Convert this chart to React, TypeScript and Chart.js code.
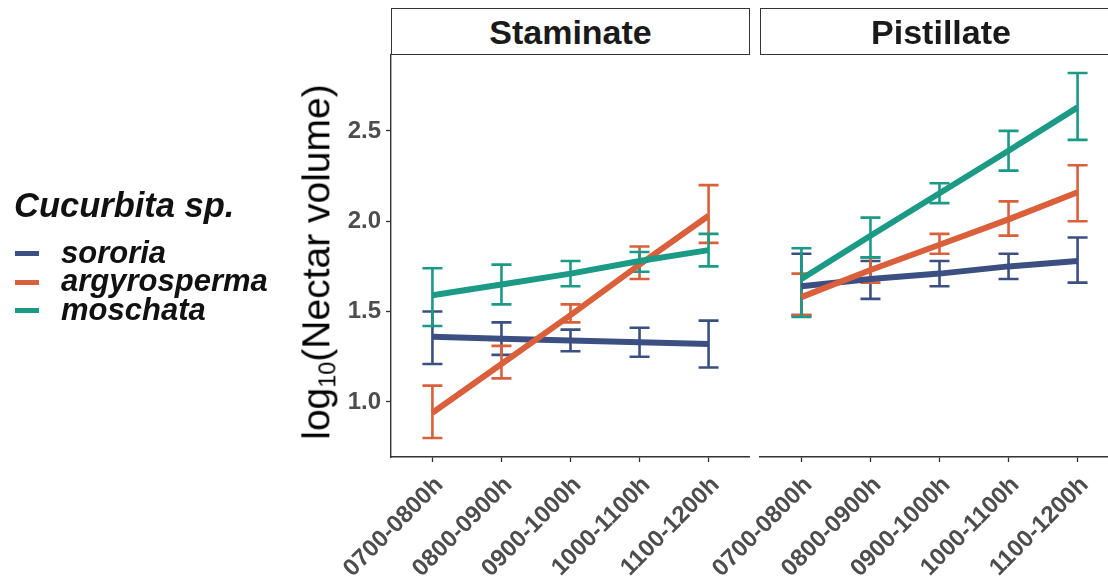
import React, { useEffect, useRef } from "react";
import { Chart, registerables } from "chart.js";

Chart.register(...registerables);

// ---------- data ----------
const timeSlots = ["0700-0800h", "0800-0900h", "0900-1000h", "1000-1100h", "1100-1200h"];
const facetNames = ["Staminate", "Pistillate"];
const legendTitle = "Cucurbita sp.";
const speciesNames = ["sororia", "argyrosperma", "moschata"];
const speciesColors = ["#3B4F82", "#D9603B", "#1B9A85"];
const yTickValues = [1.0, 1.5, 2.0, 2.5];
const yMin = 0.695;
const yMax = 2.92;

// Staminate
const staminateSororiaMean = [1.36, 1.35, 1.34, 1.33, 1.32];
const staminateSororiaLow = [1.21, 1.26, 1.28, 1.25, 1.19];
const staminateSororiaHigh = [1.5, 1.44, 1.4, 1.41, 1.45];
const staminateArgyrospermaMean = [0.94, 1.21, 1.48, 1.76, 2.03];
const staminateArgyrospermaLow = [0.8, 1.13, 1.44, 1.68, 1.88];
const staminateArgyrospermaHigh = [1.09, 1.31, 1.54, 1.86, 2.2];
const staminateMoschataMean = [1.59, 1.65, 1.71, 1.78, 1.84];
const staminateMoschataLow = [1.42, 1.54, 1.64, 1.72, 1.75];
const staminateMoschataHigh = [1.74, 1.76, 1.78, 1.83, 1.93];

// Pistillate
const pistillateSororiaMean = [1.64, 1.68, 1.71, 1.75, 1.78];
const pistillateSororiaLow = [1.48, 1.57, 1.64, 1.68, 1.66];
const pistillateSororiaHigh = [1.82, 1.78, 1.78, 1.82, 1.91];
const pistillateArgyrospermaMean = [1.58, 1.73, 1.87, 2.01, 2.16];
const pistillateArgyrospermaLow = [1.48, 1.66, 1.82, 1.92, 2.0];
const pistillateArgyrospermaHigh = [1.71, 1.8, 1.93, 2.11, 2.31];
const pistillateMoschataMean = [1.68, 1.92, 2.155, 2.39, 2.63];
const pistillateMoschataLow = [1.47, 1.8, 2.1, 2.28, 2.45];
const pistillateMoschataHigh = [1.85, 2.02, 2.21, 2.5, 2.82];

type Series = { mean: number[]; low: number[]; high: number[] };

const staminateSeries: Series[] = [
  { mean: staminateSororiaMean, low: staminateSororiaLow, high: staminateSororiaHigh },
  { mean: staminateArgyrospermaMean, low: staminateArgyrospermaLow, high: staminateArgyrospermaHigh },
  { mean: staminateMoschataMean, low: staminateMoschataLow, high: staminateMoschataHigh },
];
const pistillateSeries: Series[] = [
  { mean: pistillateSororiaMean, low: pistillateSororiaLow, high: pistillateSororiaHigh },
  { mean: pistillateArgyrospermaMean, low: pistillateArgyrospermaLow, high: pistillateArgyrospermaHigh },
  { mean: pistillateMoschataMean, low: pistillateMoschataLow, high: pistillateMoschataHigh },
];

// ---------- style ----------
const FONT = "'Liberation Sans', Arial, Helvetica, sans-serif";
const AXIS_COLOR = "#333333";
const TICK_TEXT = "#4D4D4D";
const H = 582;
const PANEL_TOP = 55;
const PANEL_BOTTOM = 457;

type FacetProps = {
  series: Series[];
  canvasLeft: number;
  canvasWidth: number;
  yAxisWidth: number;
  showY: boolean;
};

function Facet({ series, canvasLeft, canvasWidth, yAxisWidth, showY }: FacetProps) {
  const ref = useRef<HTMLCanvasElement | null>(null);

  useEffect(() => {
    if (!ref.current) return;
    const errorBars = {
      id: "errorBars",
      beforeDatasetsDraw(chart: any) {
        const { ctx } = chart;
        const x = chart.scales.x;
        const y = chart.scales.y;
        ctx.save();
        ctx.lineWidth = 2.6;
        ctx.lineCap = "butt";
        series.forEach((s, si) => {
          ctx.strokeStyle = speciesColors[si];
          s.low.forEach((lo, i) => {
            const px = x.getPixelForValue(i);
            const pLo = y.getPixelForValue(lo);
            const pHi = y.getPixelForValue(s.high[i]);
            ctx.beginPath();
            ctx.moveTo(px, pLo);
            ctx.lineTo(px, pHi);
            ctx.moveTo(px - 10, pLo);
            ctx.lineTo(px + 10, pLo);
            ctx.moveTo(px - 10, pHi);
            ctx.lineTo(px + 10, pHi);
            ctx.stroke();
          });
        });
        ctx.restore();
      },
    };

    const chart = new Chart(ref.current, {
      type: "line",
      data: {
        datasets: series.map((s, si) => ({
          label: speciesNames[si],
          data: s.mean.map((v, i) => ({ x: i, y: v })),
          borderColor: speciesColors[si],
          backgroundColor: speciesColors[si],
          borderWidth: 6,
          pointRadius: 0,
          pointHoverRadius: 0,
          tension: 0,
          fill: false,
          order: series.length - si,
        })),
      },
      options: {
        animation: false,
        responsive: false,
        devicePixelRatio: 1,
        events: [],
        layout: { padding: { top: PANEL_TOP, left: 0, right: 0, bottom: 0 } },
        plugins: { legend: { display: false }, tooltip: { enabled: false } },
        scales: {
          x: {
            type: "linear",
            min: -0.6,
            max: 4.6,
            afterBuildTicks: (s: any) => {
              s.ticks = timeSlots.map((_, i) => ({ value: i }));
            },
            afterFit: (s: any) => {
              s.height = H - PANEL_BOTTOM;
              s.paddingLeft = 0;
              s.paddingRight = 0;
            },
            ticks: {
              autoSkip: false,
              minRotation: 45,
              maxRotation: 45,
              padding: 9,
              labelOffset: 7,
              color: TICK_TEXT,
              font: { family: FONT, size: 24, weight: "bold" },
              callback: (_v: any, i: number) => timeSlots[i],
            },
            grid: {
              display: true,
              drawOnChartArea: false,
              drawTicks: true,
              tickLength: 5,
              tickWidth: 1.3,
              tickColor: AXIS_COLOR,
            },
            border: { display: true, color: AXIS_COLOR, width: 1.4 },
          },
          y: {
            type: "linear",
            min: yMin,
            max: yMax,
            afterBuildTicks: (s: any) => {
              s.ticks = yTickValues.map((v) => ({ value: v }));
            },
            afterFit: (s: any) => {
              s.width = yAxisWidth;
            },
            ticks: {
              display: showY,
              padding: 5,
              color: TICK_TEXT,
              font: { family: FONT, size: 24, weight: "bold" },
              callback: (v: any) => Number(v).toFixed(1),
            },
            grid: {
              display: showY,
              drawOnChartArea: false,
              drawTicks: true,
              tickLength: 5,
              tickWidth: 1.3,
              tickColor: AXIS_COLOR,
            },
            border: { display: showY, color: AXIS_COLOR, width: 1.4 },
          },
        },
      } as any,
      plugins: [errorBars],
    });
    return () => chart.destroy();
  }, [series, canvasLeft, canvasWidth, yAxisWidth, showY]);

  return (
    <canvas
      ref={ref}
      width={canvasWidth}
      height={H}
      style={{ position: "absolute", left: canvasLeft, top: 0, width: canvasWidth, height: H }}
    />
  );
}

const stripStyle: React.CSSProperties = {
  position: "absolute",
  top: 8,
  height: 47,
  boxSizing: "border-box",
  border: `1.4px solid ${AXIS_COLOR}`,
  background: "#fff",
  display: "flex",
  alignItems: "center",
  justifyContent: "center",
  fontFamily: FONT,
  fontWeight: "bold",
  fontSize: 34,
  color: "#1A1A1A",
  lineHeight: 1,
};

export default function App() {
  return (
    <div
      style={{
        position: "fixed",
        left: 0,
        top: 0,
        width: 1108,
        height: H,
        overflow: "hidden",
        background: "#ffffff",
      }}
    >
      <Facet series={staminateSeries} canvasLeft={0} canvasWidth={750} yAxisWidth={391} showY={true} />
      <Facet series={pistillateSeries} canvasLeft={660} canvasWidth={459} yAxisWidth={100} showY={false} />

      <div style={{ ...stripStyle, left: 391, width: 359 }}>{facetNames[0]}</div>
      <div style={{ ...stripStyle, left: 760, width: 400, justifyContent: "flex-start", paddingLeft: 100 }}>
        <span style={{ position: "absolute", left: 180, transform: "translateX(-50%)" }}>{facetNames[1]}</span>
      </div>

      {/* y axis title */}
      <div
        style={{
          position: "absolute",
          left: 318,
          top: 262,
          transform: "translate(-50%, -50%) rotate(-90deg)",
          whiteSpace: "nowrap",
          fontFamily: FONT,
          fontSize: 39,
          lineHeight: 1,
          color: "#000",
        }}
      >
        log<sub style={{ fontSize: "0.6em", verticalAlign: "-0.25em" }}>10</sub>(Nectar volume)
      </div>

      {/* legend */}
      <div
        style={{
          position: "absolute",
          left: 14,
          top: 188,
          fontFamily: FONT,
          fontSize: 34.5,
          fontWeight: "bold",
          fontStyle: "italic",
          lineHeight: 1,
          color: "#111",
          whiteSpace: "nowrap",
        }}
      >
        {legendTitle}
      </div>
      {speciesNames.map((name, i) => (
        <div key={name}>
          <div
            style={{
              position: "absolute",
              left: 15,
              top: 251 + i * 28.7,
              width: 24,
              height: 5,
              background: speciesColors[i],
            }}
          />
          <div
            style={{
              position: "absolute",
              left: 61,
              top: 236.5 + i * 28.7,
              fontFamily: FONT,
              fontSize: 31,
              fontWeight: "bold",
              fontStyle: "italic",
              lineHeight: 1,
              color: "#111",
              whiteSpace: "nowrap",
            }}
          >
            {name}
          </div>
        </div>
      ))}
    </div>
  );
}
